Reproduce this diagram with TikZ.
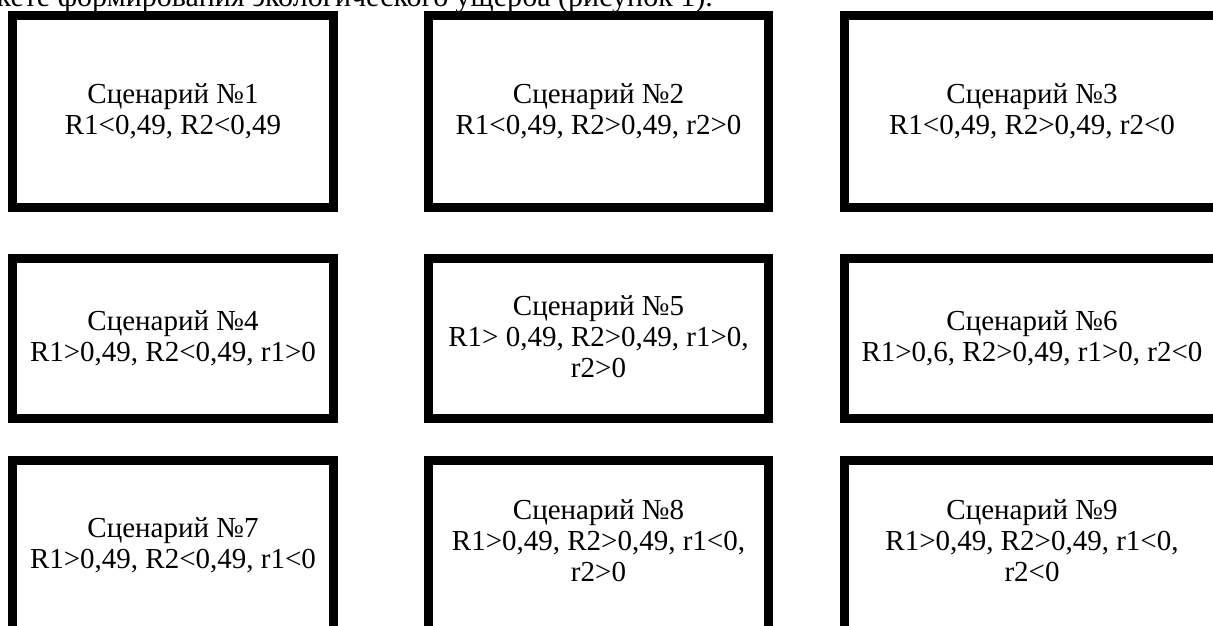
\documentclass[tikz,border=0pt]{standalone}
\usepackage{fontspec}
\setmainfont{Liberation Serif}
\begin{document}
\begin{tikzpicture}[x=1pt,y=-1pt,
  box/.style={draw=black, line width=9pt, fill=white, inner sep=0pt},
  lbl/.style={align=center, font=\fontsize{29}{31}\selectfont, inner sep=0pt},
  head/.style={font=\fontsize{30}{34}\selectfont, inner sep=0pt, anchor=base east}]
\useasboundingbox (0,0) rectangle (1213,626);
\clip (0,0) rectangle (1213,626);
\node[head] (h) at (713,7) {кете формирования экологического ущерба (рисунок 1).};
% row 1
\node[box, minimum width=321pt, minimum height=192pt] (b1) at (173,111.5) {};
\node[box, minimum width=340pt, minimum height=192pt] (b2) at (598.5,111.5) {};
\node[box, minimum width=375pt, minimum height=192pt] (b3) at (1032,111.5) {};
% row 2
\node[box, minimum width=321pt, minimum height=160pt] (b4) at (173,338.5) {};
\node[box, minimum width=340pt, minimum height=160pt] (b5) at (598.5,338.5) {};
\node[box, minimum width=375pt, minimum height=160pt] (b6) at (1032,338.5) {};
% row 3
\node[box, minimum width=321pt, minimum height=185pt] (b7) at (173,553) {};
\node[box, minimum width=340pt, minimum height=185pt] (b8) at (598.5,553) {};
\node[box, minimum width=375pt, minimum height=185pt] (b9) at (1032,553) {};
% labels
\node[lbl] (t1) at (b1.center) {Сценарий №1\\R1<0,49, R2<0,49};
\node[lbl] (t2) at (b2.center) {Сценарий №2\\R1<0,49, R2>0,49, r2>0};
\node[lbl] (t3) at (b3.center) {Сценарий №3\\R1<0,49, R2>0,49, r2<0};
\node[lbl] (t4) at (b4.center) {Сценарий №4\\R1>0,49, R2<0,49, r1>0};
\node[lbl] (t5) at ([yshift=2pt]b5.center) {Сценарий №5\\R1> 0,49, R2>0,49, r1>0,\\r2>0};
\node[lbl] (t6) at (b6.center) {Сценарий №6\\R1>0,6, R2>0,49, r1>0, r2<0};
\node[lbl] (t7) at (173,545) {Сценарий №7\\R1>0,49, R2<0,49, r1<0};
\node[lbl] (t8) at (598.5,541) {Сценарий №8\\R1>0,49, R2>0,49, r1<0,\\r2>0};
\node[lbl] (t9) at (1032,541) {Сценарий №9\\R1>0,49, R2>0,49, r1<0,\\r2<0};
\end{tikzpicture}
\end{document}
